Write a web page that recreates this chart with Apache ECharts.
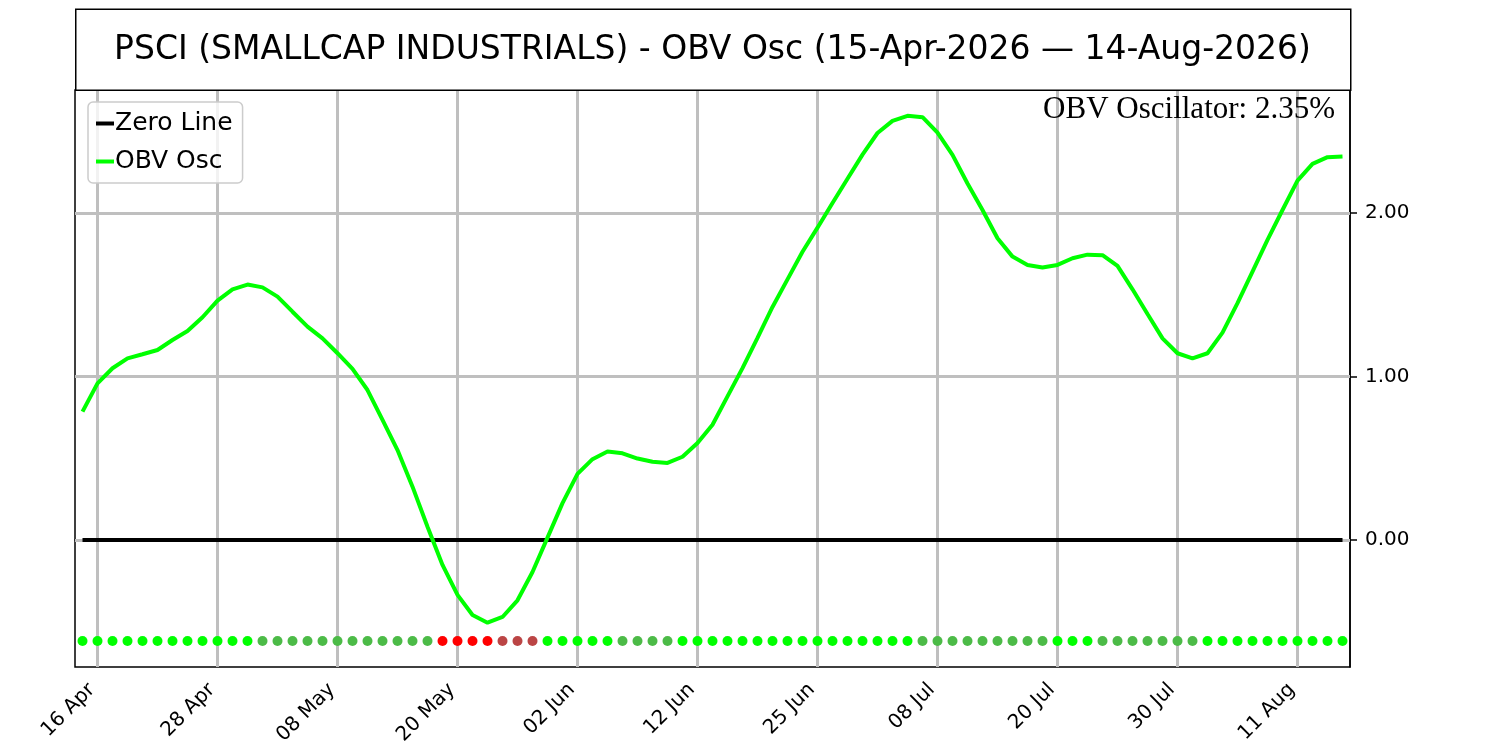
<!DOCTYPE html>
<html>
	<head>
		<meta charset="utf-8" />
		<title>PSCI OBV Osc</title>
		<script src="https://cdn.jsdelivr.net/npm/echarts@6.0.0/dist/echarts.min.js"></script>
		<style>
			html, body { margin: 0; padding: 0; background: #fff; }
			#main { width: 1500px; height: 750px; }
		</style>
	</head>
	<body>
		<div id="main"></div>
	</body>
	<script type="text/javascript">
		// trading days, 15 Apr 2026 .. 14 Aug 2026
		var days = [
			'15 Apr', '16 Apr', '17 Apr', '20 Apr', '21 Apr', '22 Apr', '23 Apr', '24 Apr', '27 Apr', '28 Apr',
			'29 Apr', '30 Apr', '01 May', '04 May', '05 May', '06 May', '07 May', '08 May', '11 May', '12 May',
			'13 May', '14 May', '15 May', '18 May', '19 May', '20 May', '21 May', '22 May', '26 May', '27 May',
			'28 May', '29 May', '01 Jun', '02 Jun', '03 Jun', '04 Jun', '05 Jun', '08 Jun', '09 Jun', '10 Jun',
			'11 Jun', '12 Jun', '15 Jun', '16 Jun', '17 Jun', '18 Jun', '22 Jun', '23 Jun', '24 Jun', '25 Jun',
			'26 Jun', '29 Jun', '30 Jun', '01 Jul', '02 Jul', '06 Jul', '07 Jul', '08 Jul', '09 Jul', '10 Jul',
			'13 Jul', '14 Jul', '15 Jul', '16 Jul', '17 Jul', '20 Jul', '21 Jul', '22 Jul', '23 Jul', '24 Jul',
			'27 Jul', '28 Jul', '29 Jul', '30 Jul', '31 Jul', '03 Aug', '04 Aug', '05 Aug', '06 Aug', '07 Aug',
			'10 Aug', '11 Aug', '12 Aug', '13 Aug', '14 Aug'
		];

		// OBV oscillator (%)
		var obvOsc = [
			0.785, 0.958, 1.050, 1.111, 1.136, 1.162, 1.223, 1.278, 1.362, 1.464,
			1.533, 1.562, 1.545, 1.488, 1.396, 1.305, 1.233, 1.142, 1.046, 0.917,
			0.734, 0.550, 0.326, 0.081, -0.153, -0.336, -0.459, -0.506, -0.471, -0.369,
			-0.196, 0.014, 0.225, 0.404, 0.494, 0.541, 0.530, 0.498, 0.478, 0.471,
			0.509, 0.593, 0.705, 0.878, 1.051, 1.236, 1.425, 1.594, 1.763, 1.910,
			2.061, 2.209, 2.357, 2.489, 2.563, 2.594, 2.586, 2.491, 2.355, 2.180,
			2.018, 1.845, 1.733, 1.682, 1.666, 1.682, 1.723, 1.745, 1.742, 1.676,
			1.533, 1.382, 1.233, 1.142, 1.111, 1.142, 1.268, 1.448, 1.641, 1.835,
			2.018, 2.198, 2.300, 2.341, 2.345
		];

		var yTicks = [0, 1, 2];
		var dotLevel = -0.618;
		var lastLabel = 'OBV Oscillator: 2.35%';

		var zeroLine = days.map(function () { return 0; });
		var dotY = days.map(function () { return dotLevel; });

		// dot colour: sign of the oscillator and its direction
		var dotColors = obvOsc.map(function (v, i) {
			var up = i === 0 || v >= obvOsc[i - 1];
			if (v >= 0) return up ? '#00ff00' : '#4cbb47';
			return up ? '#bb4545' : '#ff0000';
		});

		function showIdx(i) { return (i - 1) % 8 === 0; }

		var gridX = days.filter(function (d, i) { return showIdx(i); }).map(function (d) {
			return { xAxis: d };
		});
		var gridY = yTicks.map(function (v) { return { yAxis: v }; });

		var font = 'DejaVu Sans';
		var lineIcon = 'path://M0,0H18V4H0Z';
		var myCharts = echarts.init(document.getElementById('main'));
		var option = {
			animation: false,
			backgroundColor: '#fff',
			textStyle: { fontFamily: font },
			grid: {
				left: 75, right: 150, top: 90, bottom: 83,
				show: true, borderColor: '#000', borderWidth: 1.5,
				containLabel: false
			},
			graphic: [
				{
					type: 'rect', left: 75, top: 8.5, z: 10,
					shape: { width: 1275, height: 81 },
					style: { fill: '#fff', stroke: '#000', lineWidth: 1.5 }
				},
				{
					type: 'text', x: 712.5, y: 50, z: 11,
					style: {
						text: 'PSCI (SMALLCAP INDUSTRIALS) - OBV Osc (15-Apr-2026 \u2014 14-Aug-2026)',
						font: '33px "DejaVu Sans"', fill: '#000',
						textAlign: 'center', textVerticalAlign: 'middle'
					}
				},
				{
					type: 'text', x: 1335, y: 110, z: 11,
					style: {
						text: lastLabel,
						font: '31px "Liberation Serif"', fill: '#000',
						textAlign: 'right', textVerticalAlign: 'middle'
					}
				}
			],
			legend: {
				left: 88, top: 102,
				orient: 'vertical',
				data: [
					{ name: 'Zero Line', icon: lineIcon },
					{ name: 'OBV Osc', icon: lineIcon }
				],
				itemWidth: 18, itemHeight: 4,
				itemGap: 13,
				padding: [9, 10, 9, 8],
				borderColor: '#cccccc', borderWidth: 1.5, borderRadius: 5,
				backgroundColor: 'rgba(255,255,255,0.8)',
				textStyle: { fontSize: 25, color: '#000', fontFamily: font, padding: [0, 0, 0, -4] }
			},
			xAxis: {
				type: 'category',
				data: days,
				boundaryGap: true,
				axisLine: { show: true, lineStyle: { color: '#000', width: 1.5 } },
				axisTick: {
					show: true, alignWithLabel: true, length: 7,
					interval: showIdx,
					lineStyle: { color: '#000', width: 1.5 }
				},
				axisLabel: {
					interval: showIdx,
					rotate: 45, margin: 14,
					padding: [0, 8, 0, 0],
					fontSize: 20, color: '#000', fontFamily: font
				},
				splitLine: { show: false }
			},
			yAxis: {
				type: 'value',
				position: 'right',
				min: -0.777, max: 2.752,
				axisLine: { show: true, lineStyle: { color: '#000', width: 1.5 } },
				axisTick: {
					show: true, length: 7, customValues: yTicks,
					lineStyle: { color: '#000', width: 1.5 }
				},
				axisLabel: {
					customValues: yTicks, margin: 15,
					fontSize: 20, color: '#000', fontFamily: font,
					formatter: function (v) { return v.toFixed(2); }
				},
				splitLine: { show: false }
			},
			series: [
				{
					name: 'grid',
					type: 'line',
					data: [],
					z: 1,
					silent: true,
					markLine: {
						silent: true,
						z: 1,
						symbol: 'none',
						label: { show: false },
						emphasis: { disabled: true },
						lineStyle: { color: '#bfbfbf', width: 3, type: 'solid' },
						data: gridX.concat(gridY)
					}
				},
				{
					name: 'Zero Line',
					type: 'line',
					data: zeroLine,
					z: 3,
					showSymbol: false,
					lineStyle: { color: '#000', width: 4 },
					itemStyle: { color: '#000' }
				},
				{
					name: 'OBV Osc',
					type: 'line',
					data: obvOsc,
					z: 4,
					showSymbol: false,
					lineStyle: { color: '#00ff00', width: 4 },
					itemStyle: { color: '#00ff00' }
				},
				{
					name: 'dots',
					type: 'scatter',
					data: dotY,
					z: 5,
					symbolSize: 10,
					itemStyle: {
						opacity: 1,
						color: function (p) { return dotColors[p.dataIndex]; }
					}
				}
			]
		};
		myCharts.setOption(option);
	</script>
</html>
